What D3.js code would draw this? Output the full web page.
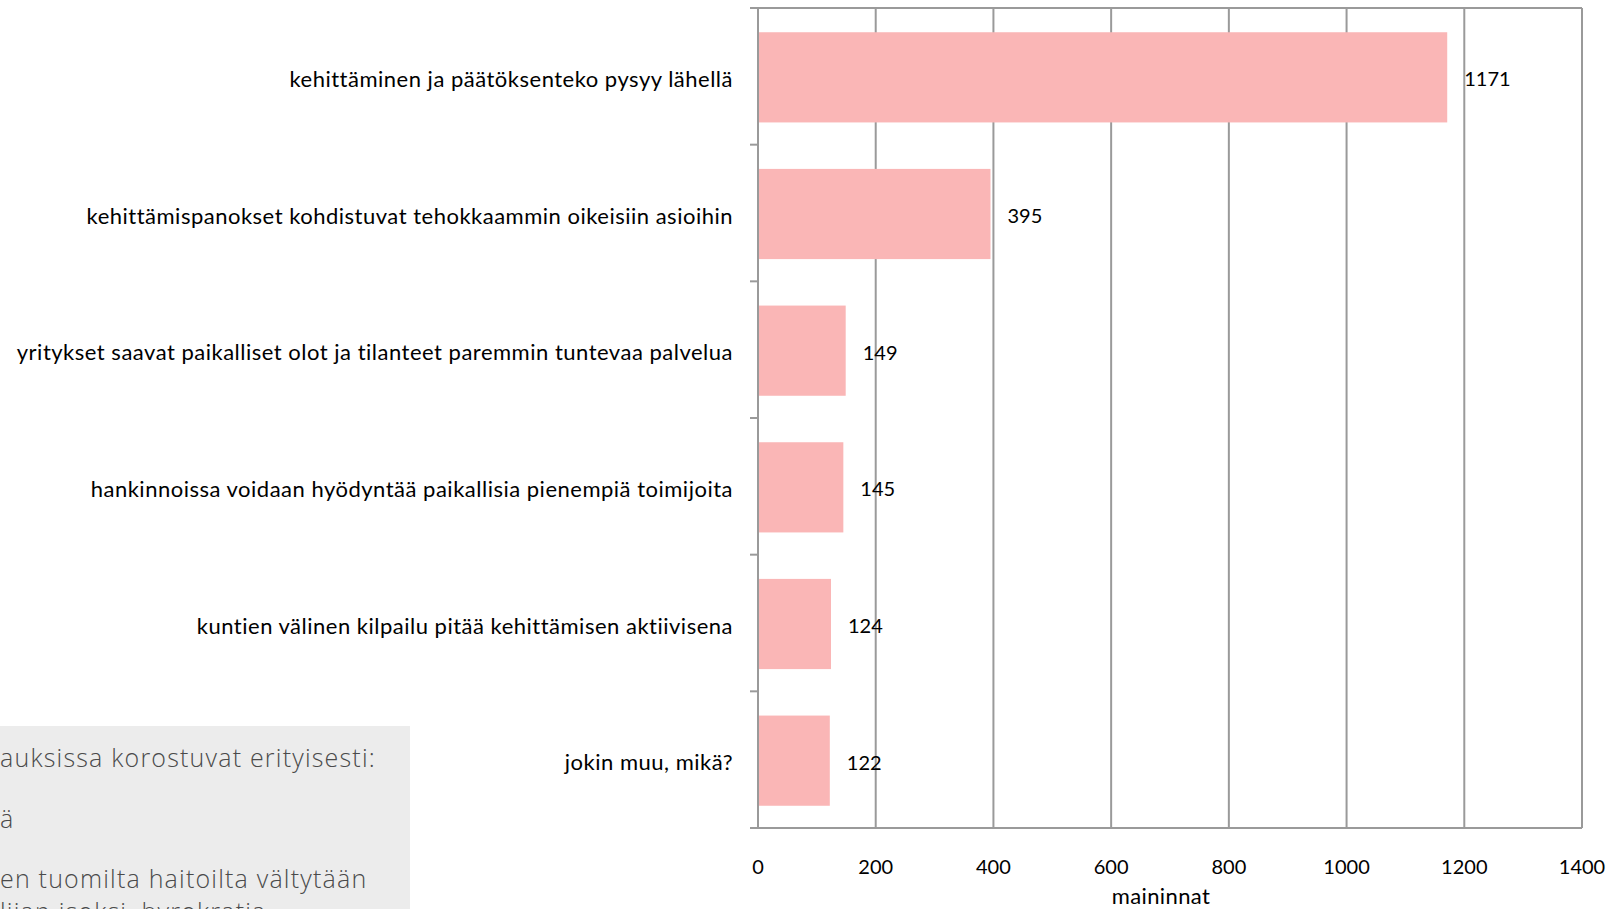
<!DOCTYPE html>
<meta charset="utf-8">
<title>Mainitut hyödyt</title>
<style>
  body { margin: 0; background: #fff; }
  svg { display: block; }
  .lbl { font-family: Lato, "Open Sans", sans-serif; font-size: 20px; fill: #000; }
  .cat { font-size: 22px; letter-spacing: 0.5px; }
  .ttl { font-size: 22px; letter-spacing: 0.4px; }
  .note { font-family: "Open Sans", sans-serif; font-weight: 300; font-size: 25px; fill: #4a4a4a; letter-spacing: 1.2px; }
</style>
<body>
<script src="https://cdnjs.cloudflare.com/ajax/libs/d3/7.8.5/d3.min.js"></script>
<script>

var width = 1620,
    height = 909,
    margin = {top: 8, right: 38, bottom: 81, left: 758};

// data
var categories = [
  "kehittäminen ja päätöksenteko pysyy lähellä",
  "kehittämispanokset kohdistuvat tehokkaammin oikeisiin asioihin",
  "yritykset saavat paikalliset olot ja tilanteet paremmin tuntevaa palvelua",
  "hankinnoissa voidaan hyödyntää paikallisia pienempiä toimijoita",
  "kuntien välinen kilpailu pitää kehittämisen aktiivisena",
  "jokin muu, mikä?"
];
var values = [1171, 395, 149, 145, 124, 122];
var xTicks = [0, 200, 400, 600, 800, 1000, 1200, 1400];
var xTitle = "maininnat";

// the clipped text box in the lower left corner
var noteLines = [
  "auksissa korostuvat erityisesti:",
  "ä",
  "en tuomilta haitoilta vältytään",
  "lijan isoksi, byrokratia"
];
var noteBaselines = [767, 828, 888, 921];

var svg = d3.select("body").append("svg")
  .attr("width", width)
  .attr("height", height);

// grey note box
svg.append("rect")
  .attr("x", 0).attr("y", 726)
  .attr("width", 410).attr("height", height - 726)
  .attr("fill", "#ececec");

svg.selectAll("text.note")
  .data(noteLines)
  .enter().append("text")
  .attr("class", "note")
  .attr("x", 0)
  .attr("y", (d, i) => noteBaselines[i])
  .text(d => d);

var iw = width - margin.left - margin.right,
    ih = height - margin.top - margin.bottom;

var g = svg.append("g")
  .attr("transform", "translate(" + margin.left + "," + margin.top + ")");

var x = d3.scaleLinear().domain([0, 1400]).range([0, iw]);
var y = d3.scaleBand().domain(categories).range([0, ih]).paddingInner(0.34).paddingOuter(0.17);

var grey = "#9a9a9a";

// vertical gridlines
g.selectAll("line.grid")
  .data(xTicks)
  .enter().append("line")
  .attr("class", "grid")
  .attr("x1", d => x(d)).attr("x2", d => x(d))
  .attr("y1", 0).attr("y2", ih)
  .attr("stroke", grey).attr("stroke-width", 2);

// frame top and bottom
g.append("line").attr("x1", -8).attr("x2", iw).attr("y1", 0).attr("y2", 0)
  .attr("stroke", grey).attr("stroke-width", 2);
g.append("line").attr("x1", -8).attr("x2", iw).attr("y1", ih).attr("y2", ih)
  .attr("stroke", grey).attr("stroke-width", 2);

// category tick marks at band boundaries
var step = y.step();
g.selectAll("line.ytick")
  .data(d3.range(categories.length + 1))
  .enter().append("line")
  .attr("class", "ytick")
  .attr("x1", -8).attr("x2", 0)
  .attr("y1", i => y(categories[0]) - y.paddingOuter() * step + i * step)
  .attr("y2", i => y(categories[0]) - y.paddingOuter() * step + i * step)
  .attr("stroke", grey).attr("stroke-width", 2);

// bars
g.selectAll("rect.bar")
  .data(values)
  .enter().append("rect")
  .attr("class", "bar")
  .attr("x", 1)
  .attr("y", (d, i) => y(categories[i]) + 1)
  .attr("width", d => x(d) - 1)
  .attr("height", y.bandwidth())
  .attr("fill", "#fab6b6");

// value labels
g.selectAll("text.val")
  .data(values)
  .enter().append("text")
  .attr("class", "lbl")
  .attr("x", d => x(d) + 17)
  .attr("y", (d, i) => y(categories[i]) + y.bandwidth() / 2 + 3)
  .attr("dy", "0.35em")
  .text(d => d);

// category labels
g.selectAll("text.cat")
  .data(categories)
  .enter().append("text")
  .attr("class", "lbl cat")
  .attr("x", -25)
  .attr("y", d => y(d) + y.bandwidth() / 2 + 3)
  .attr("dy", "0.35em")
  .attr("text-anchor", "end")
  .text(d => d);

// x tick labels
g.selectAll("text.xt")
  .data(xTicks)
  .enter().append("text")
  .attr("class", "lbl")
  .attr("x", d => x(d))
  .attr("y", ih + 39)
  .attr("dy", "0.35em")
  .attr("text-anchor", "middle")
  .text(d => d);

g.append("text")
  .attr("class", "lbl ttl")
  .attr("x", iw / 2 - 9)
  .attr("y", ih + 68)
  .attr("dy", "0.35em")
  .attr("text-anchor", "middle")
  .text(xTitle);

</script>
</body>
